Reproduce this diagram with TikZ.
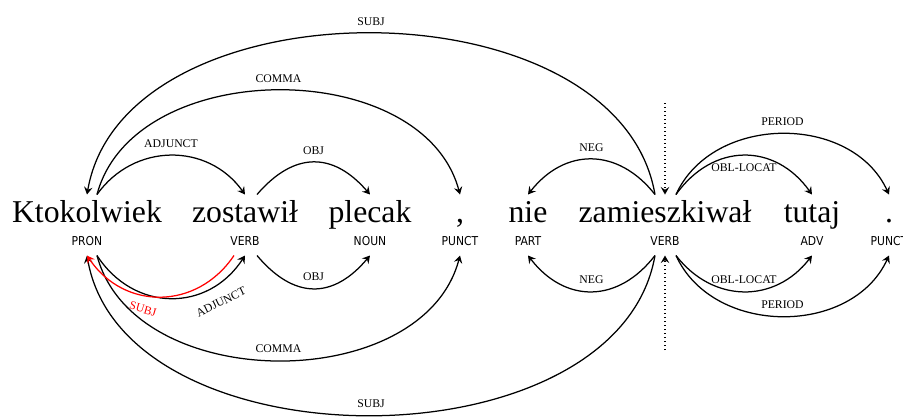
\documentclass[tikz,border=0pt]{standalone}
\usepackage{fontspec}
\setmainfont{Liberation Serif}
\newfontfamily\posfont[FakeStretch=0.88]{DejaVu Sans}
\usetikzlibrary{arrows.meta}
\tikzset{
 dep word/.style={anchor=base,font=\fontsize{12.7}{14}\selectfont,
                  text height=9pt,text depth=3pt,inner sep=2pt,outer sep=0pt},
 dep pos/.style={anchor=base,font=\posfont\fontsize{4.9}{6}\selectfont,
                 text height=3.6pt,text depth=0pt,inner sep=4pt,outer sep=0pt},
 dep arc/.style={line width=.5pt,-{Stealth[length=3pt,width=3.4pt,inset=1.1pt]}},
 dep label/.style={font=\fontsize{4.7}{5}\selectfont,inner sep=3pt},
 dep root/.style={dep arc,dash pattern=on .5pt off 1.1pt}
}

\begin{document}
\begin{tikzpicture}[x=.4pt,y=-.4pt]
 \useasboundingbox (0,0) rectangle (903,416);
 \foreach \x/\w/\p [count=\i] in {87/Ktokolwiek/PRON,245/zostawił/VERB,
   370/plecak/NOUN,460/{,}/PUNCT,528/nie/PART,665/zamieszkiwał/VERB,
   812/tutaj/ADV,889/./PUNCT} {
   \node[dep word] (w\i) at (\x,222) {\w};
   \node[dep pos] (p\i) at (\x,245.5) {\p};
 }

 % arcs above the words
 \draw[dep arc] ([xshift=-4pt]w6.north) .. controls +(-37,-215) and +(37,-215) ..
   (w1.north) node[dep label,pos=.5,above] (a1) {SUBJ};
 \draw[dep arc] ([xshift=4pt]w1.north) .. controls +(37,-139) and +(-37,-139) ..
   (w4.north) node[dep label,pos=.5,above] (a2) {COMMA};
 \draw[dep arc] ([xshift=4pt]w1.north) .. controls +(37,-52) and +(-37,-52) ..
   (w2.north) node[dep label,pos=.5,above] (a3) {ADJUNCT};
 \draw[dep arc] ([xshift=4.8pt]w2.north) .. controls +(37,-43) and +(-37,-43) ..
   (w3.north) node[dep label,pos=.5,above] (a4) {OBJ};
 \draw[dep arc] ([xshift=-4pt]w6.north) .. controls +(-37,-47) and +(37,-47) ..
   (w5.north) node[dep label,pos=.5,above] (a5) {NEG};
 \draw[dep arc] ([xshift=4.4pt]w6.north) .. controls +(37,-52) and +(-37,-52) ..
   (w7.north) node[dep label,pos=.5,below] (a6) {OBL-LOCAT};
 \draw[dep arc] ([xshift=4.4pt]w6.north) .. controls +(37,-81) and +(-37,-81) ..
   (w8.north) node[dep label,pos=.5,above] (a7) {PERIOD};

 % arcs below the tags
 \draw[dep arc] ([xshift=-4pt]p6.south) .. controls +(-37,213) and +(37,213) ..
   (p1.south) node[dep label,pos=.5,above] (b1) {SUBJ};
 \draw[dep arc] ([xshift=4pt]p1.south) .. controls +(37,140) and +(-37,140) ..
   (p4.south) node[dep label,pos=.5,above] (b2) {COMMA};
 \draw[dep arc] ([xshift=4pt]p1.south) .. controls +(37,57) and +(-37,57) .. (p2.south);
 \draw[dep arc,red] ([xshift=-4.4pt]p2.south) .. controls +(-37,55) and +(37,55) .. (p1.south);
 \draw[dep arc] ([xshift=4.8pt]p2.south) .. controls +(37,44) and +(-37,44) ..
   (p3.south) node[dep label,pos=.5,above] (b5) {OBJ};
 \draw[dep arc] ([xshift=-4pt]p6.south) .. controls +(-37,48) and +(37,48) ..
   (p5.south) node[dep label,pos=.5,above] (b6) {NEG};
 \draw[dep arc] ([xshift=4.4pt]p6.south) .. controls +(37,48) and +(-37,48) ..
   (p7.south) node[dep label,pos=.5,above] (b7) {OBL-LOCAT};
 \draw[dep arc] ([xshift=4.4pt]p6.south) .. controls +(37,81) and +(-37,81) ..
   (p8.south) node[dep label,pos=.5,above] (b8) {PERIOD};
 \node[dep label,rotate=26] (b3) at (221,302) {ADJUNCT};
 \node[dep label,rotate=-16,text=red] (b4) at (143,309) {SUBJ};

 % root
 \coordinate (rt) at (665,103);
 \coordinate (rb) at (665,350);
 \draw[dep root] (rt) -- (w6.north);
 \draw[dep root] (rb) -- (p6.south);
\end{tikzpicture}
\end{document}
